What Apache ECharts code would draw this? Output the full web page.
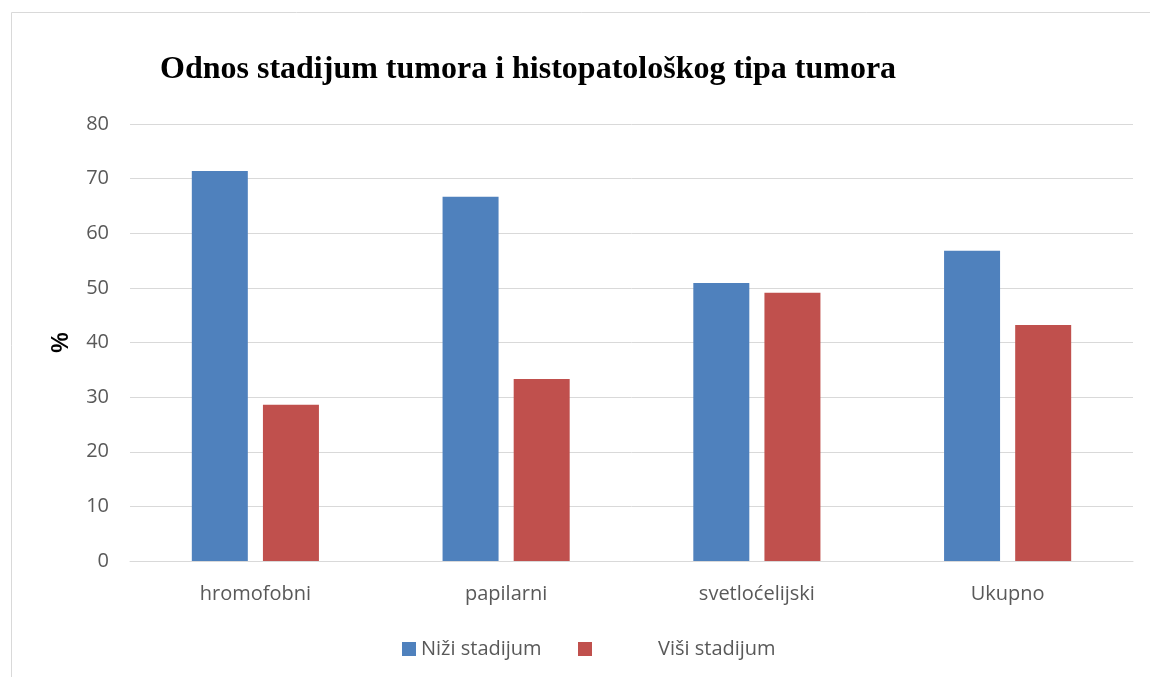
<!DOCTYPE html>
<html><head><meta charset="utf-8">
<script src="https://cdn.jsdelivr.net/npm/echarts@6/dist/echarts.min.js"></script>
<style>html,body{margin:0;padding:0;background:#fff}#c{width:1150px;height:677px}</style>
</head><body><div id="c"></div>
<script>
const categories = ['hromofobni', 'papilarni', 'svetloćelijski', 'Ukupno'];
const nizi = [71.4, 66.7, 50.9, 56.8];
const visi = [28.6, 33.3, 49.1, 43.2];
const seriesNames = ['Niži stadijum', 'Viši stadijum'];
const yTicks = { min: 0, max: 80, interval: 10 };

const chart = echarts.init(document.getElementById('c'));
const lblFont = 'Open Sans';
chart.setOption({
  animation: false,
  title: {
    text: 'Odnos stadijum tumora i histopatološkog tipa tumora',
    left: 155, top: 49,
    textStyle: { fontFamily: 'Liberation Serif', fontWeight: 'bold', fontSize: 32, color: '#000' }
  },
  graphic: [{
    type: 'rect', shape: { x: 11.5, y: 12.5, width: 1200, height: 700 },
    style: { fill: 'none', stroke: '#d9d9d9', lineWidth: 1 }, silent: true
  }],
  legend: [{
    data: [seriesNames[0]], left: 397, top: 634,
    itemWidth: 14, itemHeight: 14, icon: 'rect',
    textStyle: { fontFamily: lblFont, fontSize: 20, color: '#595959' }
  }, {
    data: [seriesNames[1]], left: 573, top: 634,
    itemWidth: 14, itemHeight: 14, icon: 'rect',
    textStyle: { fontFamily: lblFont, fontSize: 20, color: '#595959', padding: [0, 0, 0, 61] }
  }],
  grid: { left: 130, right: 17, top: 124, bottom: 116 },
  xAxis: {
    type: 'category', data: categories,
    axisLine: { lineStyle: { color: '#d9d9d9', width: 1 } },
    axisTick: { show: false },
    axisLabel: { fontFamily: lblFont, fontSize: 20, color: '#595959', margin: 23 }
  },
  yAxis: {
    type: 'value', min: yTicks.min, max: yTicks.max, interval: yTicks.interval,
    name: '%', nameLocation: 'middle', nameGap: 57, nameRotate: 90,
    nameTextStyle: { fontFamily: 'Liberation Sans', fontWeight: 'bold', fontSize: 23, color: '#000' },
    axisLine: { show: false }, axisTick: { show: false },
    axisLabel: { fontFamily: lblFont, fontSize: 20, color: '#595959', margin: 21 },
    splitLine: { lineStyle: { color: '#d9d9d9', width: 1 } }
  },
  series: [{
    name: seriesNames[0], type: 'bar', data: nizi, barWidth: 56, barGap: '27%',
    itemStyle: { color: '#4F81BD' }
  }, {
    name: seriesNames[1], type: 'bar', data: visi, barWidth: 56,
    itemStyle: { color: '#C0504D' }
  }]
});
</script></body></html>
